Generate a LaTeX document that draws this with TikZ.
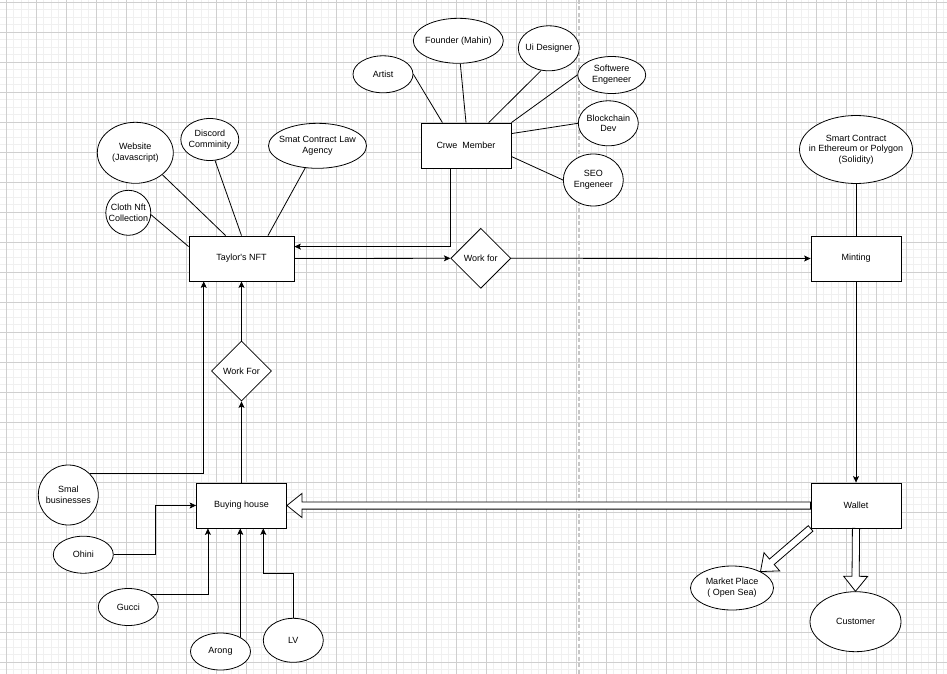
\documentclass[tikz,border=0pt]{standalone}
\usepackage{fontspec}
\newfontfamily\dfont{Liberation Sans}
\usetikzlibrary{shapes.geometric,arrows.meta,calc}
\newcommand\flexarr[2]{%
  \coordinate (fA) at (#1);
  \coordinate (fB) at (#2);
  \coordinate (fC) at ($(fB)!15pt!(fA)$);
  \draw[draw=black, line width=0.8pt, fill=white, line join=miter]
    ($(fA)!3.6pt!90:(fB)$) -- ($(fC)!3.6pt!-90:(fA)$) -- ($(fC)!12pt!-90:(fA)$)
    -- (fB) -- ($(fC)!12pt!90:(fA)$) -- ($(fC)!3.6pt!90:(fA)$)
    -- ($(fA)!3.6pt!-90:(fB)$) -- cycle;}
\begin{document}
\begin{tikzpicture}[x=1pt,y=-1pt,
  every node/.style={font=\dfont\fontsize{9}{10.7}\selectfont, text=black},
  every label/.style={align=center, inner sep=0pt},
  box/.style={draw=black, line width=0.8pt, rectangle, minimum width=90pt, minimum height=45pt, inner sep=0pt, fill=white, align=center},
  ell/.style 2 args={draw=black, line width=0.8pt, ellipse, minimum width=#1pt, minimum height=#2pt, inner sep=0pt, fill=white},
  dia/.style={draw=black, line width=0.8pt, diamond, aspect=1, minimum width=60pt, minimum height=60pt, inner sep=0pt, fill=white},
  link/.style={draw=black, line width=0.8pt},
  arr/.style={link, -{Stealth[length=6.5pt,width=6pt,inset=1.5pt]}},
  gmin/.style={draw=black!6, line width=0.7pt},
  gmaj/.style={draw=black!19, line width=0.8pt},
  pagebrk/.style={draw=black!22, line width=1.8pt, dash pattern=on 4pt off 2.5pt}
]
\useasboundingbox (0,0) rectangle (947,674);
\fill[white] (0,0) rectangle (947,674);
% grid
\foreach \x in {6,13.5,...,947} \draw[gmin] (\x,0) -- (\x,674);
\foreach \y in {2,9.5,...,674} \draw[gmin] (0,\y) -- (947,\y);
\foreach \x in {6,36,...,946} \draw[gmaj] (\x,0) -- (\x,674);
\foreach \y in {2,32,...,672} \draw[gmaj] (0,\y) -- (947,\y);
\draw[pagebrk] (579,0) -- (579,674);

% rectangles
\node[box, minimum width=105pt] (taylor) at (241.5,258.5) {Taylor's NFT};
\node[box] (crew) at (466,145.5) {Crwe~~Member};
\node[box] (minting) at (856,258.5) {Minting};
\node[box] (wallet) at (856,505.5) {Wallet};
\node[box] (buying) at (241.5,505.5) {Buying house};

% diamonds
\node[dia] (wf1) at (480.8,258.3) {Work for};
\node[dia] (wf2) at (241.5,371) {Work For};

% ellipses around crew
\node[ell={60}{37}, label=center:Artist] (artist) at (383,74.3) {};
\node[ell={90}{45}, label=center:Founder (Mahin)] (founder) at (458.3,40.8) {};
\node[ell={61}{45}, label=center:Ui Designer] (ui) at (548.8,48.3) {};
\node[ell={68}{37}, label={center:Softwere\\Engeneer}] (soft) at (611.7,75) {};
\node[ell={60}{45}, label={center:Blockchain\\Dev}] (block) at (608.3,123.3) {};
\node[ell={60}{52}, label={center:SEO\\Engeneer}] (seo) at (593.3,180) {};

% ellipses around Taylor's NFT
\node[ell={76}{61}, label={center:Website\\(Javascript)}] (website) at (135.3,152.8) {};
\node[ell={58}{42}, label={center:Discord\\Comminity}] (discord) at (209.8,139.5) {};
\node[ell={98}{45}, label={center:Smat Contract Law\\Agency}] (smat) at (317.5,145.8) {};
\node[ell={45}{45}, label={center:Cloth Nft\\Collection}] (cloth) at (128.3,212.8) {};

% right side
\node[ell={113}{68}, label={center:Smart Contract\\in Ethereum or Polygon\\(Solidity)}] (smartc) at (856,149.5) {};
\node[ell={83}{44}, label={center:Market Place\\(\ Open Sea)}] (market) at (732,588) {};
\node[ell={91}{60}, label=center:Customer] (customer) at (855.5,621.7) {};

% bottom left
\node[ell={60}{60}, label={center:Smal\\businesses}] (smal) at (68.3,495) {};
\node[ell={60}{37}, label=center:Ohini] (ohini) at (83.3,554.7) {};
\node[ell={60}{37}, label=center:Gucci] (gucci) at (128.3,607) {};
\node[ell={60}{37}, label=center:Arong] (arong) at (220.5,651.5) {};
\node[ell={60}{44}, label=center:LV] (lv) at (293.3,640.3) {};

% crew links
\draw[link] (artist.east) -- ($(crew.north west)!0.24!(crew.north east)$);
\draw[link] (founder.-85) -- (crew.north);
\draw[link] (ui.-109) -- ($(crew.north west)!0.75!(crew.north east)$);
\draw[link] (soft.west) -- (crew.north east);
\draw[link] (block.west) -- ($(crew.north east)!0.24!(crew.south east)$);
\draw[link] (seo.west) -- ($(crew.north east)!0.74!(crew.south east)$);

% taylor links
\draw[link] (website.-39) -- ($(taylor.north west)!0.35!(taylor.north east)$);
\draw[link] (discord.-76) -- (taylor.north);
\draw[link] (smat.-119) -- ($(taylor.north west)!0.75!(taylor.north east)$);
\draw[link] (cloth.-5) -- ($(taylor.north west)!0.24!(taylor.south west)$);

% main flow
\draw[arr] ($(crew.south west)!0.33!(crew.south east)$) |- ($(taylor.north east)!0.24!(taylor.south east)$);
\draw[arr] (taylor.east) -- (wf1.west);
\draw[arr] (wf1.east) -- (minting.west);
\draw[link] (smartc.south) -- (minting.north);
\draw[arr] (minting.south) -- (wallet.north);

\draw[arr] (buying.north) -- (wf2.south);
\draw[arr] (wf2.north) -- (taylor.south);
\draw[arr] (smal.45) -| ($(taylor.south west)!0.143!(taylor.south east)$);
\draw[arr] (ohini.east) -| ($(ohini.east)!0.5!(buying.west)$) |- (buying.west);
\draw[arr] (gucci.30) -| ($(buying.south west)!0.13!(buying.south east)$);
\draw[arr] (arong.36) -- (arong.36 |- buying.south);
\draw[arr] (lv.north) -- ++(0,-45) -| ($(buying.south west)!0.74!(buying.south east)$);

% hollow arrows from wallet
\flexarr{wallet.west}{buying.east}
\flexarr{wallet.south west}{market.30}
\flexarr{wallet.south}{customer.north}
\end{tikzpicture}
\end{document}
